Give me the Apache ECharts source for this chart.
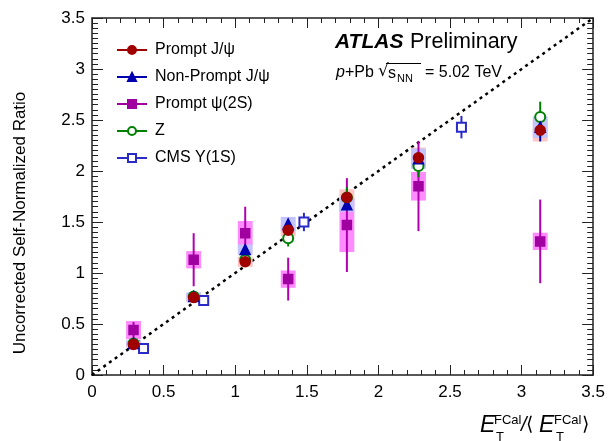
<!DOCTYPE html>
<html>
<head>
<meta charset="utf-8">
<script src="https://cdn.jsdelivr.net/npm/echarts@6/dist/echarts.min.js"></script>
<style>
html,body{margin:0;padding:0;background:#fff;}
#chart{width:608px;height:441px;}
</style>
</head>
<body>
<div id="chart"></div>
<script>
// ---- data ----
const xAtlas = [0.29, 0.71, 1.07, 1.37, 1.78, 2.28, 3.13];
const promptJpsi = [0.30, 0.76, 1.11, 1.42, 1.74, 2.13, 2.40];
const promptJpsiStat = [0.01, 0.01, 0.01, 0.02, 0.02, 0.03, 0.04];
const promptJpsiSys = [0.03, 0.04, 0.05, 0.06, 0.08, 0.10, 0.11];
const nonPromptJpsi = [0.31, 0.77, 1.23, 1.48, 1.67, 2.12, 2.43];
const nonPromptJpsiStat = [0.02, 0.02, 0.03, 0.04, 0.05, 0.06, 0.14];
const nonPromptJpsiSys = [0.03, 0.04, 0.05, 0.07, 0.07, 0.10, 0.105];
const psi2S = [0.44, 1.13, 1.39, 0.94, 1.47, 1.85, 1.31];
const psi2SStat = [0.08, 0.26, 0.26, 0.21, 0.46, 0.44, 0.41];
const psi2SSys = [0.09, 0.085, 0.12, 0.085, 0.265, 0.14, 0.085];
const zBoson = [0.31, 0.77, 1.13, 1.34, 1.74, 2.05, 2.53];
const zStat = [0.03, 0.03, 0.04, 0.08, 0.10, 0.11, 0.15];
const xCms = [0.36, 0.78, 1.48, 2.58];
const cmsUpsilon = [0.26, 0.73, 1.50, 2.43];
const cmsStat = [0.02, 0.02, 0.09, 0.11];
const diagonal = [0, 3.5];
const seriesNames = ['Prompt J/ψ', 'Non-Prompt J/ψ', 'Prompt ψ(2S)', 'Z', 'CMS Υ(1S)'];

// ---- styling ----
const FONT = 'Liberation Sans, Arial, Helvetica, sans-serif';
const C_RED = '#a00000', C_BLUE = '#0000b0', C_MAG = '#a000a0', C_GREEN = '#008000', C_CMS = '#2a2ac8';
const BOX_HW = 0.052;

function band(xs, ys, es) { return xs.map((x, i) => [x, ys[i] - es[i], ys[i] + es[i]]); }
function pts(xs, ys) { return xs.map((x, i) => [x, ys[i]]); }

function boxSeries(data, color, z) {
  return {
    type: 'custom', z: z, silent: true, data: data,
    renderItem: function (params, api) {
      const x = api.value(0), lo = api.value(1), hi = api.value(2);
      const p1 = api.coord([x - BOX_HW, hi]);
      const p2 = api.coord([x + BOX_HW, lo]);
      return { type: 'rect', shape: { x: p1[0], y: p1[1], width: p2[0] - p1[0], height: p2[1] - p1[1] },
               style: { fill: color } };
    }
  };
}
function barSeries(data, color, z, w) {
  return {
    type: 'custom', z: z, silent: true, data: data,
    renderItem: function (params, api) {
      const x = api.value(0), lo = api.value(1), hi = api.value(2);
      const p1 = api.coord([x, hi]);
      const p2 = api.coord([x, lo]);
      return { type: 'line', shape: { x1: p1[0], y1: p1[1], x2: p2[0], y2: p2[1] },
               style: { stroke: color, lineWidth: w || 2 } };
    }
  };
}
function markerSeries(name, data, symbol, size, color, z, extra) {
  return Object.assign({
    name: name, type: 'line', z: z, data: data, symbol: symbol, symbolSize: size,
    showSymbol: true, showAllSymbol: true, silent: true,
    lineStyle: { width: 0, opacity: 0, color: color },
    itemStyle: { color: color, borderColor: color, borderWidth: 1.5, opacity: 1 }
  }, extra || {});
}

const chart = echarts.init(document.getElementById('chart'), null, { renderer: 'canvas' });

const axisCommon = {
  type: 'value', min: 0, max: 3.5, interval: 0.5,
  splitLine: { show: false },
  axisLine: { show: true, onZero: false, lineStyle: { color: '#222', width: 1.5 } }
};
const tickStyle = { color: '#222', width: 1 };

function txt(text, x, y, size, extra) {
  return { type: 'text', x: x, y: y, silent: true,
    style: Object.assign({ text: text, fontSize: size, fill: '#000', fontFamily: FONT, verticalAlign: 'middle' }, extra || {}) };
}

chart.setOption({
  animation: false,
  backgroundColor: '#fff',
  textStyle: { fontFamily: FONT },
  grid: { left: 92, right: 14, top: 18, bottom: 66, containLabel: false },
  xAxis: [
    Object.assign({}, axisCommon, {
      position: 'bottom',
      axisTick: { show: true, inside: true, length: 10, lineStyle: tickStyle },
      minorTick: { show: true, splitNumber: 5, length: 5, lineStyle: tickStyle },
      axisLabel: { show: true, color: '#000', fontSize: 17, margin: 9, fontFamily: FONT }
    }),
    Object.assign({}, axisCommon, {
      position: 'top',
      axisTick: { show: true, inside: true, length: 10, lineStyle: tickStyle },
      minorTick: { show: true, splitNumber: 5, length: 5, lineStyle: tickStyle },
      axisLabel: { show: false }
    })
  ],
  yAxis: [
    Object.assign({}, axisCommon, {
      position: 'left',
      axisTick: { show: true, inside: true, length: 11, lineStyle: tickStyle },
      minorTick: { show: true, splitNumber: 10, length: 6, lineStyle: tickStyle },
      axisLabel: { show: true, color: '#000', fontSize: 17, margin: 7, fontFamily: FONT }
    }),
    Object.assign({}, axisCommon, {
      position: 'right',
      axisTick: { show: true, inside: true, length: 11, lineStyle: tickStyle },
      minorTick: { show: true, splitNumber: 10, length: 6, lineStyle: tickStyle },
      axisLabel: { show: false }
    })
  ],
  legend: {
    data: seriesNames,
    orient: 'vertical', left: 111, top: 37,
    itemWidth: 30, itemHeight: 10, itemGap: 11,
    selectedMode: false,
    textStyle: { fontSize: 16, color: '#000', fontFamily: FONT, padding: [0, 0, 0, 3] },
    lineStyle: { width: 2, opacity: 1 }
  },
  series: [
    {
      type: 'line', z: 1, silent: true, symbol: 'none',
      data: diagonal.map(v => [v, v]),
      lineStyle: { color: '#000', width: 2.5, type: [3, 4] }
    },
    boxSeries(band(xAtlas, psi2S, psi2SSys), '#ff8cff', 2),
    boxSeries(band(xAtlas, promptJpsi, promptJpsiSys), '#ffc4c4', 3),
    boxSeries(band(xAtlas, nonPromptJpsi, nonPromptJpsiSys), '#c4c4ff', 4),
    barSeries(band(xAtlas, psi2S, psi2SStat), '#b000b0', 5, 2),
    barSeries(band(xCms, cmsUpsilon, cmsStat), C_CMS, 5, 2),
    barSeries(band(xAtlas, nonPromptJpsi, nonPromptJpsiStat), C_BLUE, 5, 2),
    barSeries(band(xAtlas, zBoson, zStat), C_GREEN, 6, 2),
    barSeries(band(xAtlas, promptJpsi, promptJpsiStat), C_RED, 6, 2),
    markerSeries(seriesNames[2], pts(xAtlas, psi2S), 'rect', 9, C_MAG, 7),
    markerSeries(seriesNames[4], pts(xCms, cmsUpsilon), 'emptyRect', 9, C_CMS, 7,
      { itemStyle: { color: C_CMS, borderColor: C_CMS, borderWidth: 1.2 } }),
    markerSeries(seriesNames[3], pts(xAtlas, zBoson), 'emptyCircle', 10, C_GREEN, 8,
      { itemStyle: { color: C_GREEN, borderColor: C_GREEN, borderWidth: 1.2 } }),
    markerSeries(seriesNames[1], pts(xAtlas, nonPromptJpsi), 'triangle', 10, C_BLUE, 9),
    markerSeries(seriesNames[0], pts(xAtlas, promptJpsi), 'circle', 10, C_RED, 10)
  ],
  graphic: [
    { type: 'text', x: 20, y: 223, rotation: Math.PI / 2, silent: true,
      style: { text: 'Uncorrected Self-Normalized Ratio', fontSize: 17, fill: '#000', fontFamily: FONT,
               align: 'center', verticalAlign: 'middle' } },
    // ATLAS label
    txt('ATLAS', 335, 42, 21, { fontWeight: 'bold', fontStyle: 'italic' }),
    txt('Preliminary', 410, 42, 21.5),
    txt('p', 336, 73, 16, { fontStyle: 'italic' }),
    txt('+Pb', 345, 73, 16),
    txt('√', 378, 72, 17, { fontFamily: 'DejaVu Sans, ' + FONT }),
    { type: 'line', silent: true, shape: { x1: 386, y1: 63.5, x2: 421, y2: 63.5 }, style: { stroke: '#000', lineWidth: 1 } },
    txt('s', 388, 74, 16),
    txt('NN', 397, 79, 11),
    txt('= 5.02 TeV', 425, 73, 16),
    // x-axis title: E_T^FCal / <E_T^FCal>
    txt('E', 480, 426, 23, { fontStyle: 'italic' }),
    txt('FCal', 494, 420, 13),
    txt('T', 496, 437, 13),
    txt('/', 521, 425, 20, { fontStyle: 'italic' }),
    txt('⟨', 526, 425, 19, { fontFamily: 'DejaVu Sans, ' + FONT }),
    txt('E', 539, 426, 23, { fontStyle: 'italic' }),
    txt('FCal', 554, 420, 13),
    txt('T', 556, 437, 13),
    txt('⟩', 582, 425, 19, { fontFamily: 'DejaVu Sans, ' + FONT })
  ]
});
</script>
</body>
</html>
